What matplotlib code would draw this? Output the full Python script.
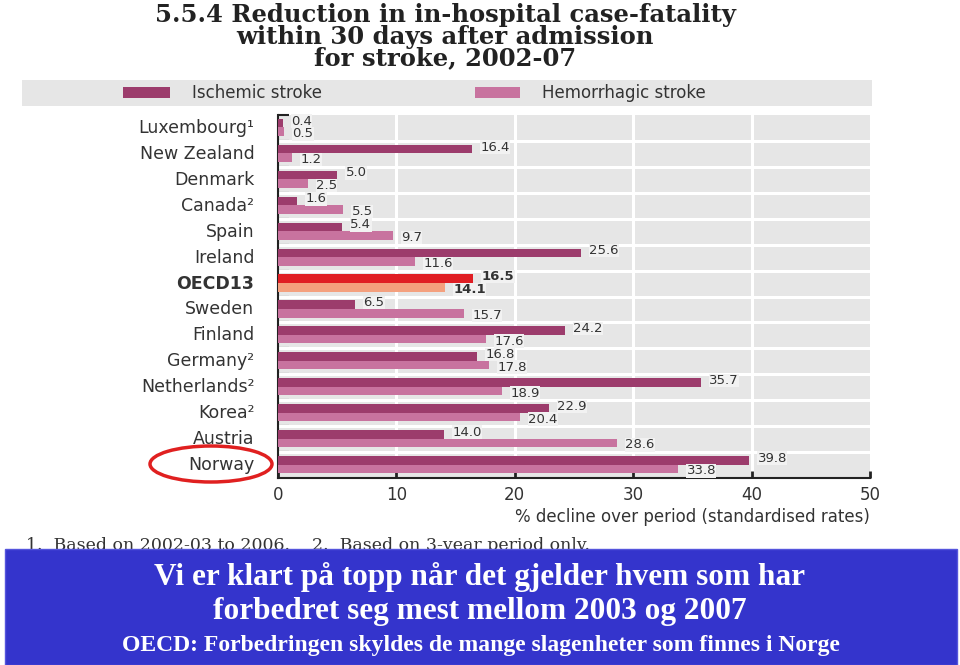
import matplotlib.pyplot as plt
from matplotlib.patches import Rectangle, Ellipse

countries = ["Luxembourg¹", "New Zealand", "Denmark", "Canada²", "Spain", "Ireland", "OECD13",
             "Sweden", "Finland", "Germany²", "Netherlands²", "Korea²", "Austria", "Norway"]
ischemic = [0.4, 16.4, 5.0, 1.6, 5.4, 25.6, 16.5, 6.5, 24.2, 16.8, 35.7, 22.9, 14.0, 39.8]
hemorrhagic = [0.5, 1.2, 2.5, 5.5, 9.7, 11.6, 14.1, 15.7, 17.6, 17.8, 18.9, 20.4, 28.6, 33.8]
xticks = [0, 10, 20, 30, 40, 50]

W, H = 960, 665
C_ISC = "#9c3c6c"
C_HEM = "#c8739f"
C_OECD_ISC = "#e01e24"
C_OECD_HEM = "#f4a07e"


def fx(x):
    return x / W


def fy(y):
    return 1 - y / H


fig = plt.figure(figsize=(9.6, 6.65), dpi=100)

# title
title = "5.5.4 Reduction in in-hospital case-fatality\nwithin 30 days after admission\nfor stroke, 2002-07"
fig.text(fx(445), fy(3), title, ha="center", va="top", fontsize=17.5, fontweight="bold",
         family="DejaVu Serif", color="#222222", linespacing=0.88)

# legend band
fig.patches.append(Rectangle((fx(22), fy(106)), fx(850), 26 / H, transform=fig.transFigure,
                             facecolor="#e6e6e6", edgecolor="none"))
fig.patches.append(Rectangle((fx(123), fy(98)), fx(47), 11 / H, transform=fig.transFigure,
                             facecolor=C_ISC, edgecolor="none"))
fig.patches.append(Rectangle((fx(475), fy(98)), fx(45), 11 / H, transform=fig.transFigure,
                             facecolor=C_HEM, edgecolor="none"))
fig.text(fx(192), fy(92.5), "Ischemic stroke", va="center", fontsize=12, color="#333333")
fig.text(fx(542), fy(92.5), "Hemorrhagic stroke", va="center", fontsize=12, color="#333333")

# plot
ax = fig.add_axes([fx(278), fy(478), fx(592), (478 - 115) / H])
ax.set_facecolor("#e6e6e6")
n = len(countries)
pos = list(range(n))
bh = 0.33
for i in pos:
    oecd = countries[i] == "OECD13"
    c1 = C_OECD_ISC if oecd else C_ISC
    c2 = C_OECD_HEM if oecd else C_HEM
    ax.barh(i - bh / 2 - 0.02, ischemic[i], height=bh, color=c1, zorder=3)
    ax.barh(i + bh / 2 - 0.02, hemorrhagic[i], height=bh, color=c2, zorder=3)
    fw = "bold" if oecd else "normal"
    for v, yy in [(ischemic[i], i - bh / 2 - 0.1), (hemorrhagic[i], i + bh / 2 + 0.06)]:
        ax.annotate(f"{v:.1f}", (v, yy), xytext=(6, 0), textcoords="offset points",
                    va="center", ha="left", fontsize=9.5, color="#333333", fontweight=fw,
                    zorder=4, bbox=dict(boxstyle="square,pad=0.02", facecolor="#f2f2f2",
                                        edgecolor="none"))

for x in xticks[1:-1]:
    ax.axvline(x, color="white", lw=2.2, zorder=1)
for i in range(n - 1):
    ax.axhline(i + 0.5, color="white", lw=2.2, zorder=2)

ax.set_xlim(0, 50)
ax.set_ylim(n - 0.5, -0.5)
ax.set_xticks(xticks)
ax.set_xticklabels([str(t) for t in xticks], fontsize=12, color="#333333")
ax.tick_params(axis="x", direction="in", length=5, width=2, pad=6, color="#222222")
ax.set_yticks([i + 0.5 for i in range(-1, n - 1)])
ax.set_yticklabels([])
ax.tick_params(axis="y", direction="in", length=8, width=1.5, color="#222222")
for s in ["top", "right"]:
    ax.spines[s].set_visible(False)
ax.spines["left"].set_color("#222222")
ax.spines["bottom"].set_color("#222222")
ax.spines["left"].set_linewidth(1.5)
ax.spines["bottom"].set_linewidth(1.5)

for i, c in enumerate(countries):
    fw = "bold" if c == "OECD13" else "normal"
    ax.annotate(c, (0, i), xytext=(-17, 0), textcoords="offset points", ha="right",
                va="center", fontsize=12.5, color="#333333", fontweight=fw,
                annotation_clip=False)

fig.text(fx(870), fy(517), "% decline over period (standardised rates)", ha="right",
         va="center", fontsize=12, color="#333333")

# footnote (partly hidden by the blue box)
fig.text(fx(26), fy(545), "1.  Based on 2002-03 to 2006.    2.  Based on 3-year period only.",
         va="center", fontsize=12.5, family="DejaVu Serif", color="#333333", zorder=1)

# red circle around Norway
fig.patches.append(Ellipse((fx(211), fy(464)), fx(122), 36 / H, transform=fig.transFigure,
                           facecolor="none", edgecolor="#e02020", lw=2.5))

# blue box with message
fig.patches.append(Rectangle((fx(5), 0), fx(952), (665 - 549) / H, transform=fig.transFigure,
                             facecolor="#3434cc", edgecolor="#5555dd", lw=1, zorder=5))
ser = "Liberation Serif"
fig.text(fx(480), fy(577), "Vi er klart på topp når det gjelder hvem som har", ha="center",
         va="center", fontsize=22.5, fontweight="bold", family=ser, color="white", zorder=6)
fig.text(fx(480), fy(612), "forbedret seg mest mellom 2003 og 2007", ha="center",
         va="center", fontsize=22.5, fontweight="bold", family=ser, color="white", zorder=6)
fig.text(fx(481), fy(645), "OECD: Forbedringen skyldes de mange slagenheter som finnes i Norge",
         ha="center", va="center", fontsize=17, fontweight="bold", family=ser, color="white",
         zorder=6)

fig.savefig("out.png", dpi=100)
